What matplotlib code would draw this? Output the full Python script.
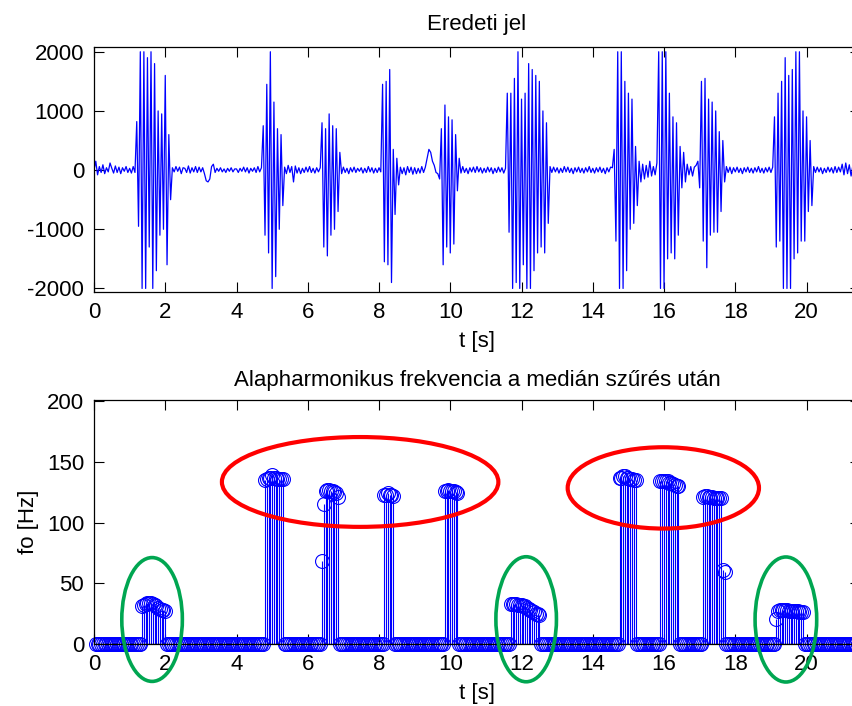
import numpy as np
import matplotlib
matplotlib.use('Agg')
import matplotlib.pyplot as plt
from matplotlib.patches import Ellipse

plt.rcParams['font.family'] = ['Liberation Sans', 'DejaVu Sans']
plt.rcParams['axes.unicode_minus'] = False

# --- Data ---
# original signal, every 0.05 s (one row per second)
sample_step = 0.05
signal = [
    0, 150, -80, 60, -40, 90, -60, 40, -30, 120, 30, -50, 70, -40, 50, -60, 40, -20, 60, -40,
    30, -50, 60, -40, 820, -950, 2000, -2000, 2000, -2000, 1900, -1300, 2000, -2000, 1800, -1700, 1000, -1100, 950, -1000,
    1600, -1600, 600, -500, 40, -30, 60, -20, 50, -60, 40, 30, -40, 70, -50, 40, -30, 60, -40, 50,
    -30, 40, -60, -180, -200, -150, 60, 100, -40, 30, -20, 40, -30, 20, -40, 30, -20, 40, -30, 20,
    20, -40, 30, -20, 50, -30, 40, -50, 30, -20, 40, -40, 60, -30, 40, 750, -1100, 1450, -1400, 2000,
    -2000, 1150, -1800, 700, -1000, 600, -600, 50, -60, 80, -40, 60, -200, 70, -50, 40, -60, 30, -40, 50,
    -30, 60, -40, 30, -50, 40, -30, 40, 800, -1300, 700, -1450, 950, -1100, 750, -1000, 700, -700, 300, -60,
    50, -40, 30, -60, 40, -30, 50, -40, 30, -20, 40, -50, 30, -40, 60, -30, 40, -50, 30, -40,
    40, -30, 1450, -1550, 1500, -1600, 1700, -1900, 350, -750, 200, -250, 50, -60, 40, -80, 60, -40, 50, -70,
    40, -60, 30, -50, 60, -40, 50, 200, 350, 300, 150, 80, -40, -60, -150, 700, -1600, 1100, -1300, 900,
    -1400, 850, -1250, 600, -350, 200, -50, 60, -40, 30, -60, 40, -30, 50, -40, 60, -30, 40, -50, 30,
    -40, 50, -30, 40, -60, 30, -40, 50, -30, 40, -50, 30, 1300, -1050, 1300, -2000, 1550, -1900, 2000, -2000,
    1200, -1600, 1300, -2000, 1800, -2000, 1700, -1700, 1600, -1400, 1500, -1300, 1000, -1400, 800, -900, 60, -40, 50, -30,
    40, -50, 30, -40, 60, -30, 50, -40, 30, -60, 40, -30, 50, -40, 30, -50, 40, -30, 60, -40,
    30, -50, 40, -30, 50, -40, 30, -60, 40, -30, 50, 40, 350, -1200, 2000, -2000, 2000, -2000, 1500, -1700,
    1300, -1000, 1200, -900, 400, -600, 150, -200, 100, -150, 80, -120, 150, -100, 60, -80, 120, 2000, -2000, 2000,
    -2000, 2000, -1500, 1300, -1400, 900, -1500, 800, -1100, 400, -300, 300, -200, 100, -80, 60, -100, 50, 80, 150,
    -300, 1500, -1200, 1550, -1650, 1200, -1100, 1150, -1050, 1000, -1050, 650, -700, 500, -200, 60, -40, 50, -60, 40,
    -30, 50, -40, 30, -60, 40, -30, 50, -40, 30, -50, 40, -30, 60, -40, 30, -50, 40, -30, 50,
    -40, 50, 900, -1300, 1300, -1200, 1500, -2000, 1900, -2000, 1600, -2000, 1700, -1500, 2000, -1400, 2000, -1200, 1000, -1200,
    900, -700, 500, -600, 60, -40, 50, -30, 40, -60, 30, -40, 50, -30, 40, -50, 60, -40, 50, -30,
    100, -80, 120, -60, 90, -100, 80, -60, 110, -70, 60,
]

# fundamental frequency after median filtering: frames every 0.05 s,
# zero everywhere except the voiced parts below
frame_step = 0.05
frame_count = 430
voiced_start = [1.35, 4.80, 6.40, 8.15, 9.85, 11.70, 14.75, 15.90, 17.10, 19.15]
voiced_fo = [
    [31, 32, 33, 34, 34, 34, 33, 32, 31, 30, 29, 28, 28, 27],
    [135, 136, 137, 137, 139, 137, 137, 136, 136, 136, 136],
    [68, 115, 126, 127, 127, 126, 126, 125, 124, 121],
    [123, 123, 124, 123, 123, 122],
    [126, 126, 127, 126, 126, 126, 125, 124],
    [33, 33, 33, 33, 32, 32, 32, 31, 31, 30, 29, 28, 27, 26, 25, 25, 24],
    [137, 137, 138, 138, 137, 137, 136, 136, 135, 135],
    [134, 134, 134, 134, 134, 133, 133, 132, 131, 130, 130],
    [121, 122, 122, 121, 121, 121, 120, 120, 120, 120, 120, 61, 59],
    [21, 27, 28, 28, 28, 28, 28, 27, 27, 27, 27, 27, 27, 26, 26, 26],
]

t_signal = np.arange(len(signal)) * sample_step
t_frames = np.arange(1, frame_count + 1) * frame_step
fo = np.zeros(frame_count)
for start, vals in zip(voiced_start, voiced_fo):
    i0 = int(round(start / frame_step)) - 1
    fo[i0:i0 + len(vals)] = vals

# --- Figure ---
fig = plt.figure(figsize=(8.53, 7.06), dpi=100)
ax1 = fig.add_axes([0.1102, 0.5864, 0.898, 0.347])
ax2 = fig.add_axes([0.1102, 0.0878, 0.898, 0.3456])

for ax in (ax1, ax2):
    ax.tick_params(direction='in', top=True, right=True, length=7, width=0.8,
                   labelsize=16, pad=7)
    for s in ax.spines.values():
        s.set_linewidth(0.9)
    ax.set_xlim(0, 21.5)
    ax.set_xticks(np.arange(0, 21, 2))
    ax.set_xlabel('t [s]', fontsize=16, labelpad=6)

# top: original signal
ax1.plot(t_signal, signal, color='blue', lw=0.9)
ax1.set_ylim(-2060, 2080)
ax1.set_yticks([-2000, -1000, 0, 1000, 2000])
ax1.set_title('Eredeti jel', fontsize=16, pad=12)

# bottom: fundamental frequency as stems
markers, stems, base = ax2.stem(t_frames, fo, linefmt='-', markerfmt='o', basefmt='k-')
markers.set_color('blue')
markers.set_markerfacecolor('none')
markers.set_markersize(10)
markers.set_markeredgewidth(0.8)
markers.set_clip_on(False)
stems.set_color('blue')
stems.set_linewidth(0.8)
base.set_linewidth(0.9)
ax2.set_ylim(0, 201)
ax2.set_yticks([0, 50, 100, 150, 200])
ax2.set_ylabel('fo [Hz]', fontsize=16, labelpad=6)
ax2.set_title('Alapharmonikus frekvencia a medián szűrés után', fontsize=16, pad=10)

# hand-drawn highlight ellipses (centre t, centre f, width, height, colour)
highlights = [
    (1.63, 20.2, 1.70, 102, '#00a651'),
    (7.47, 133.5, 7.76, 74, 'red'),
    (12.13, 20.4, 1.70, 103, '#00a651'),
    (15.98, 128.6, 5.37, 67, 'red'),
    (19.42, 20.2, 1.73, 103, '#00a651'),
]
for cx, cy, w, h, c in highlights:
    lw = 3.0 if c == 'red' else 2.6
    ax2.add_patch(Ellipse((cx, cy), w, h, fill=False, edgecolor=c, lw=lw,
                          clip_on=False, zorder=5))

fig.savefig('out.png', dpi=100)
